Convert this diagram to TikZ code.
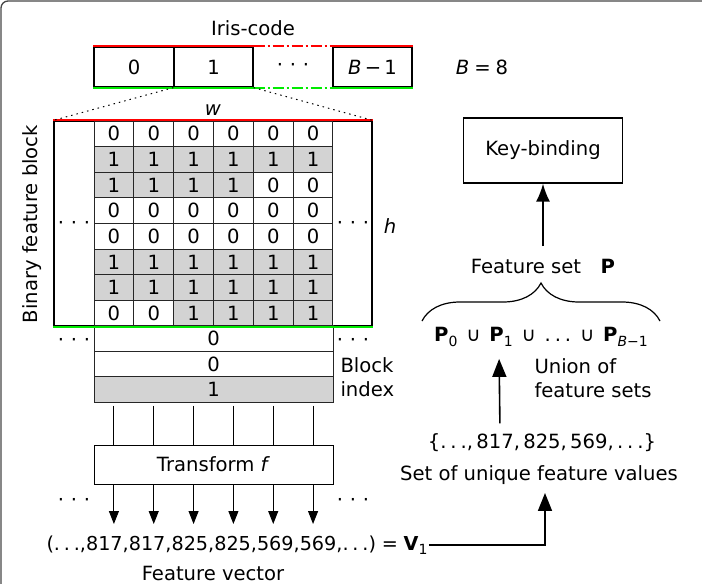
\documentclass[tikz,border=0pt]{standalone}
\usepackage{fontspec}
\setmainfont{DejaVu Sans}
\usepackage{tikz}
\usetikzlibrary{shapes,positioning,calc,arrows.meta,decorations.pathreplacing}
\definecolor{cellgray}{RGB}{211,211,211}
\definecolor{codered}{RGB}{255,0,0}
\definecolor{codegreen}{RGB}{0,235,0}
\definecolor{framegray}{RGB}{70,70,70}
\newcommand{\blkdots}{·\hspace{0.34em}·\hspace{0.34em}·}
\newcommand{\lowdots}{.\hspace{0.2em}.\hspace{0.2em}.}
\newcommand{\subtx}[1]{\raisebox{-0.22em}{\fontsize{14}{14}\selectfont #1}}
\newcommand{\unsp}{\hspace{0.45em}∪\hspace{0.45em}}

\begin{document}
\begin{tikzpicture}[x=1pt, y=-1pt, line width=1pt, every node/.style={font=\fontsize{19.6}{23}\selectfont, inner sep=2pt}]
	\tikzset{>={Triangle[length=13pt,width=10pt]}}
	\tikzstyle{cell}=[draw=black!85, minimum width=39.83, minimum height=25.63, inner sep=0]
	\tikzstyle{bit0}=[fill=white]
	\tikzstyle{bit1}=[fill=cellgray]
	\tikzstyle{box}=[draw=black, line width=1.3pt, inner sep=0]
	\tikzstyle{redline}=[codered, line width=2pt]
	\tikzstyle{greenline}=[codegreen, line width=2pt]
	\tikzstyle{bigarrow}=[-{Triangle[length=18pt,width=14pt]}, line width=1.6pt]

	\useasboundingbox (0,0) rectangle (702,584);
	\draw[framegray, line width=1.3pt, rounded corners=7] (1,620) -- (1,1) -- (740,1);

	% iris-code
	\node (iris) at (253,28) {Iris-code};
	\node[box, minimum width=80, minimum height=40] (ic0) at (134,67) {0};
	\node[box, minimum width=79, minimum height=40] (ic1) at (213.5,67) {1};
	\node[minimum width=80, minimum height=40, inner sep=0] (icd) at (293,67) {\blkdots};
	\node[box, minimum width=79, minimum height=40] (icB) at (372.5,67) {\textit{B}\,−\,1};
	\draw[redline] (ic0.north west) -- (ic1.north east);
	\draw[redline, dash pattern=on 11pt off 3pt on 2pt off 3pt] (ic1.north east) -- (icB.north west);
	\draw[redline] (icB.north west) -- (icB.north east);
	\draw[greenline] (ic0.south west) -- (ic1.south east);
	\draw[greenline, dash pattern=on 11pt off 3pt on 2pt off 3pt] (ic1.south east) -- (icB.south west);
	\draw[greenline] (icB.south west) -- (icB.south east);
	\node (bnum) at (482,67) {\textit{B}\hspace{0.25em}=\hspace{0.25em}8};

	% binary feature block
	\node[box, minimum width=318, minimum height=205] (blk) at (213,223.5) {};
	\foreach \row [count=\j from 0] in {{0,0,0,0,0,0},{1,1,1,1,1,1},{1,1,1,1,0,0},{0,0,0,0,0,0},{0,0,0,0,0,0},{1,1,1,1,1,1},{1,1,1,1,1,1},{0,0,1,1,1,1}}
		\foreach \v [count=\i from 0] in \row
			\node[cell, bit\v] (c\j\i) at ({94+39.83*(\i+0.5)}, {121+25.63*(\j+0.5)}) {\v};
	\draw[redline] (blk.north west) -- (blk.north east);
	\draw[dash pattern=on 1.5pt off 4pt] (ic1.south west) -- (blk.north west);
	\draw[dash pattern=on 1.5pt off 4pt] (ic1.south east) -- (blk.north east);
	\node (w) at (213,110) {\textit{w}};
	\node (h) at (390,226) {\textit{h}};
	\node (ld1) at (74,225) {\blkdots};
	\node (rd1) at (353,225) {\blkdots};
	\node[rotate=90] (bfb) at (32,224) {Binary feature block};

	% block index
	\node[cell, bit0, minimum width=239] (idx0) at (213.5,338.5) {0};
	\node[cell, bit0, minimum width=239] (idx1) at (213.5,364) {0};
	\node[cell, bit1, minimum width=239] (idx2) at (213.5,389.5) {1};
	\draw[greenline] (blk.south west) -- (blk.south east);
	\node (ld2) at (74,342) {\blkdots};
	\node (rd2) at (353,342) {\blkdots};
	\node[anchor=west, align=left, inner sep=0, font=\fontsize{19.6}{24}\selectfont] (bidx) at (340,377) {Block\\index};

	% transform
	\node[box, line width=1pt, minimum width=239, minimum height=39] (tf) at (213.5,464.5) {Transform \textit{f}};
	\coordinate (fvtop) at (0,524);
	\foreach \i in {0,...,5} {
		\draw ($(c7\i |- idx2.south)+(0,3)$) -- (c7\i |- tf.north);
		\draw[->] (c7\i |- tf.south) -- (c7\i |- fvtop);
	}
	\node (ld3) at (74,502) {\blkdots};
	\node (rd3) at (353,502) {\blkdots};
	\node[anchor=west, inner sep=1pt, font=\fontsize{19.2}{22}\selectfont] (fv) at (45,545) {(\lowdots,817,817,825,825,569,569,\lowdots)\hspace{0.3em}=\hspace{0.3em}\textbf{V}\subtx{1}};
	\node (fvl) at (213,573) {Feature vector};

	% key-binding side
	\node[box, minimum width=159, minimum height=65] (kb) at (543,150.5) {Key-binding};
	\node (fs) at (543,266) {Feature set\quad\textbf{P}};
	\coordinate (fsup) at (543,246);
	\draw[-{Latex[length=18pt,width=14pt]}, line width=1.7pt] (fsup) -- (kb.south);
	\coordinate (brl) at (422,321);
	\coordinate (brr) at (660,321);
	\draw[decorate, decoration={brace, amplitude=38pt}, line width=1.2pt] (brl) -- (brr);
	\node (pu) at (541,337) {\textbf{P}\subtx{0}\unsp\textbf{P}\subtx{1}\unsp\lowdots\unsp\textbf{P}\subtx{\textit{B}−1}};
	\node[anchor=west, align=left, inner sep=0, font=\fontsize{19.6}{24}\selectfont] (uni) at (534,378) {Union of\\feature sets};
	\node (sv) at (542,443) {\{\lowdots,\,817,\,825,\,569,\,\lowdots\}};
	\node (su) at (539,475) {Set of unique feature values};
	\draw[bigarrow, shorten <=8pt, shorten >=10pt] ([xshift=-42pt]sv.north) -- ([xshift=-42pt]pu.south);
	\draw[bigarrow, shorten >=6pt] (fv.east) -| ([xshift=6pt]su.south);
\end{tikzpicture}
\end{document}
